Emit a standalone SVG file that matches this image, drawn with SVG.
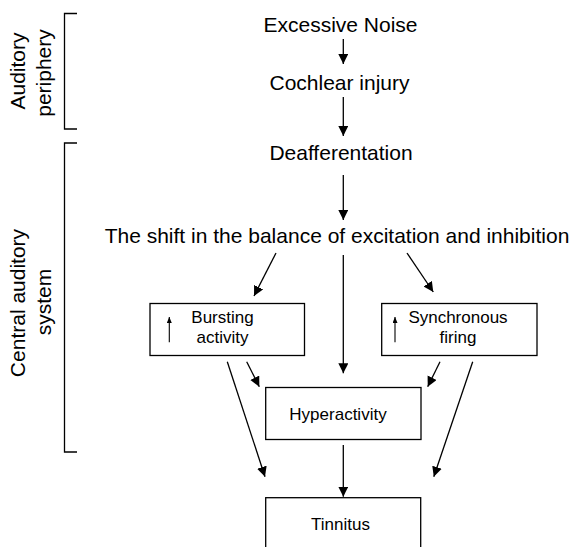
<svg xmlns="http://www.w3.org/2000/svg" width="575" height="547" viewBox="0 0 575 547">
<style>
text{font-family:"Liberation Sans",Arial,sans-serif;fill:#000}
.big{font-size:21px;text-anchor:middle}
.sm{font-size:17px;text-anchor:middle}
.box{fill:#fff;stroke:#000;stroke-width:1.3}
.br{fill:none;stroke:#000;stroke-width:1.3}
.c line{stroke:#000;stroke-width:1.3;marker-end:url(#ah)}
.up{stroke:#000;stroke-width:1.1;marker-end:url(#sh)}
</style>
<defs>
<marker id="ah" markerUnits="userSpaceOnUse" markerWidth="11" markerHeight="11" refX="10" refY="5" orient="auto">
<path d="M0,0 L10,5 L0,10 z" fill="#000"/>
</marker>
<marker id="sh" markerUnits="userSpaceOnUse" markerWidth="7" markerHeight="6" refX="6" refY="2.5" orient="auto">
<path d="M0,0 L6,2.5 L0,5 z" fill="#000"/>
</marker>
</defs>
<g id="brackets">
<path class="br" d="M77,13.5 H64.5 V129 H77"/>
<path class="br" d="M77,143 H64.5 V452 H77"/>
<text class="big" transform="translate(24.5,71) rotate(-90)">Auditory</text>
<text class="big" transform="translate(51,73) rotate(-90)">periphery</text>
<text class="big" transform="translate(25,303) rotate(-90)">Central auditory</text>
<text class="big" transform="translate(51,302) rotate(-90)">system</text>
</g>
<g class="c" id="connectors">
<line x1="343.3" y1="39" x2="343.3" y2="64"/>
<line x1="343.3" y1="97" x2="343.3" y2="136"/>
<line x1="343.3" y1="175" x2="343.3" y2="220"/>
<line x1="276" y1="253" x2="254" y2="296"/>
<line x1="343.3" y1="255" x2="343.3" y2="373.3"/>
<line x1="407" y1="253" x2="433.3" y2="292"/>
<line x1="246.7" y1="361.7" x2="259.3" y2="386.7"/>
<line x1="227.3" y1="361.7" x2="265" y2="476.7"/>
<line x1="440" y1="361.7" x2="427.7" y2="386.7"/>
<line x1="472.7" y1="361.7" x2="433.8" y2="476.7"/>
<line x1="343.3" y1="445" x2="343.3" y2="496.7"/>
</g>
<g id="excessive-noise"><text class="big" x="340.5" y="31.5">Excessive Noise</text></g>
<g id="cochlear-injury"><text class="big" x="339.5" y="90">Cochlear injury</text></g>
<g id="deafferentation"><text class="big" x="341" y="160">Deafferentation</text></g>
<g id="shift"><text class="big" x="337" y="243">The shift in the balance of excitation and inhibition</text></g>
<g id="bursting">
<rect class="box" x="150" y="303.5" width="154.5" height="52"/>
<line class="up" x1="169.3" y1="342.3" x2="169.3" y2="317"/>
<text class="sm" x="222.5" y="323.3">Bursting</text>
<text class="sm" x="222.5" y="343.3">activity</text>
</g>
<g id="synchronous">
<rect class="box" x="381.7" y="303.5" width="155.3" height="52"/>
<line class="up" x1="395" y1="342.3" x2="395" y2="317"/>
<text class="sm" x="458" y="323.3">Synchronous</text>
<text class="sm" x="458" y="343.3">firing</text>
</g>
<g id="hyperactivity">
<rect class="box" x="265.7" y="387.5" width="155.3" height="52"/>
<text class="sm" x="338" y="420">Hyperactivity</text>
</g>
<g id="tinnitus">
<rect class="box" x="265.7" y="497.7" width="155" height="60"/>
<text class="sm" x="340.5" y="530">Tinnitus</text>
</g>
</svg>
